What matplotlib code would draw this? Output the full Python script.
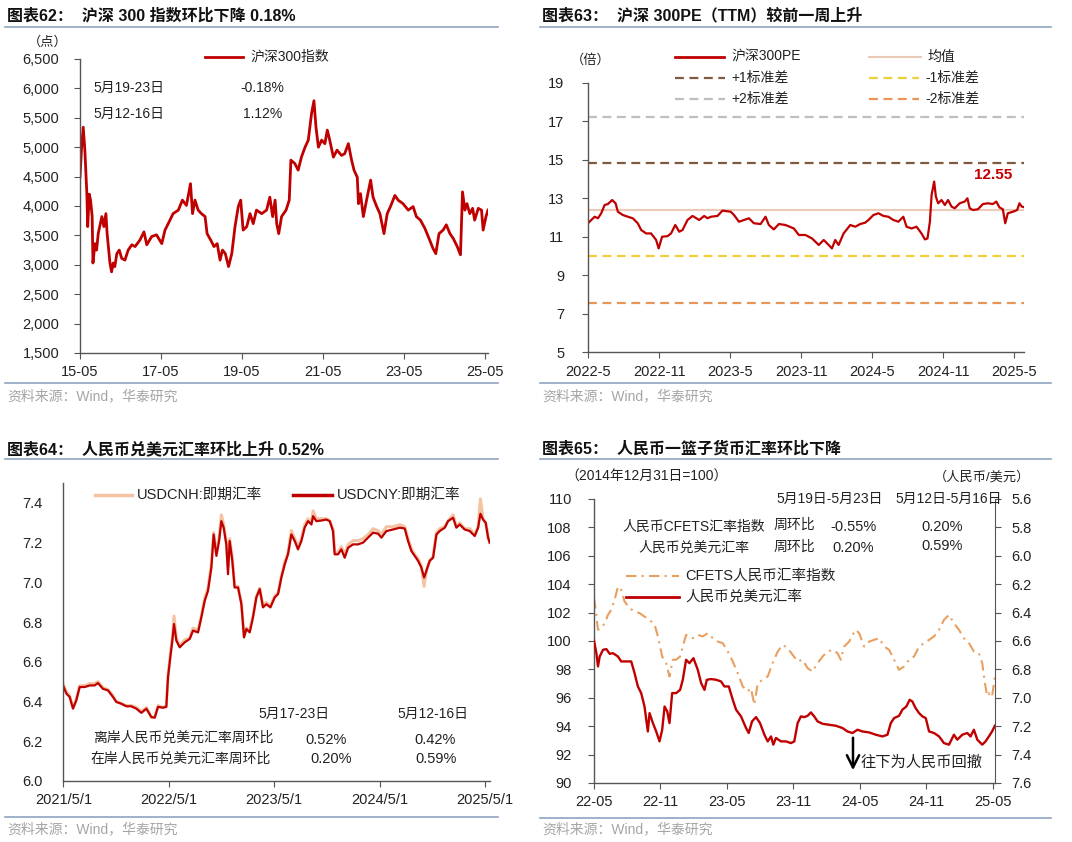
import matplotlib
matplotlib.use("Agg")
import matplotlib.pyplot as plt
from matplotlib.lines import Line2D

plt.rcParams['font.family'] = ['Liberation Sans', 'Noto Sans CJK SC', 'DejaVu Sans']

# ---- data: 沪深300指数 (decimal year, points)
csi_t = [2015.33, 2015.37, 2015.41, 2015.45, 2015.50, 2015.52, 2015.56, 2015.59, 2015.63, 2015.65,
         2015.70, 2015.74, 2015.78, 2015.87, 2015.92, 2015.97, 2016.00, 2016.07, 2016.11, 2016.15,
         2016.19, 2016.24, 2016.30, 2016.36, 2016.44, 2016.52, 2016.61, 2016.69, 2016.81, 2016.91,
         2016.98, 2017.10, 2017.22, 2017.35, 2017.43, 2017.51, 2017.63, 2017.76, 2017.86, 2017.96,
         2018.06, 2018.11, 2018.17, 2018.25, 2018.33, 2018.42, 2018.47, 2018.56, 2018.64, 2018.72,
         2018.79, 2018.85, 2018.92, 2019.00, 2019.08, 2019.16, 2019.24, 2019.30, 2019.36, 2019.45,
         2019.53, 2019.61, 2019.69, 2019.82, 2019.94, 2020.02, 2020.09, 2020.15, 2020.19, 2020.24,
         2020.31, 2020.42, 2020.50, 2020.54, 2020.64, 2020.72, 2020.80, 2020.89, 2020.97, 2021.05,
         2021.11, 2021.16, 2021.22, 2021.30, 2021.38, 2021.44, 2021.50, 2021.59, 2021.68, 2021.79,
         2021.87, 2021.96, 2022.04, 2022.10, 2022.18, 2022.21, 2022.26, 2022.33, 2022.41, 2022.51,
         2022.57, 2022.66, 2022.74, 2022.84, 2022.92, 2023.00, 2023.11, 2023.19, 2023.31, 2023.44,
         2023.56, 2023.64, 2023.74, 2023.85, 2023.97, 2024.05, 2024.12, 2024.20, 2024.30, 2024.38,
         2024.47, 2024.55, 2024.65, 2024.73, 2024.78, 2024.84, 2024.89, 2024.96, 2025.03, 2025.08,
         2025.17, 2025.25, 2025.29, 2025.36, 2025.41]
csi_v = [4490, 5000, 5340, 4950, 4200, 3650, 4200, 4100, 3830, 3030,
         3360, 3250, 3530, 3820, 3650, 3870, 3530, 3030, 2880, 3030,
         2970, 3190, 3250, 3110, 3080, 3250, 3340, 3310, 3420, 3560,
         3340, 3480, 3510, 3360, 3590, 3700, 3870, 3930, 4100, 4010,
         4380, 3870, 4100, 3930, 3870, 3820, 3530, 3420, 3310, 3360,
         3080, 3250, 3190, 2970, 3190, 3650, 3990, 4100, 3590, 3650,
         3870, 3700, 3930, 3870, 3930, 4150, 3820, 4100, 3700, 3530,
         3820, 3930, 4100, 4780, 4720, 4610, 4830, 5000, 5120, 5570,
         5790, 5340, 5000, 5120, 5060, 5290, 5120, 4830, 4950, 4860,
         4890, 5060, 4780, 4610, 4490, 4040, 4210, 3820, 4100, 4440,
         4150, 3990, 3870, 3530, 3870, 3990, 4180, 4100, 4040, 3930,
         3990, 3820, 3760, 3620, 3420, 3280, 3190, 3530, 3590, 3680,
         3530, 3450, 3310, 3170, 4240, 3930, 4040, 3870, 3960, 3760,
         3960, 3930, 3590, 3820, 3930]
csi_ticks = [2015.33, 2017.33, 2019.33, 2021.33, 2023.33, 2025.33]
csi_labels = ['15-05', '17-05', '19-05', '21-05', '23-05', '25-05']

# ---- data: 沪深300PE
pe_t = [2022.333, 2022.356, 2022.380, 2022.403, 2022.426, 2022.450, 2022.473, 2022.503, 2022.527, 2022.543,
        2022.578, 2022.613, 2022.648, 2022.683, 2022.707, 2022.742, 2022.777, 2022.812, 2022.830, 2022.854,
        2022.893, 2022.917, 2022.947, 2022.975, 2022.998, 2023.033, 2023.068, 2023.115, 2023.150, 2023.174,
        2023.197, 2023.244, 2023.279, 2023.337, 2023.360, 2023.395, 2023.430, 2023.465, 2023.500, 2023.547,
        2023.582, 2023.605, 2023.640, 2023.676, 2023.722, 2023.781, 2023.816, 2023.862, 2023.909, 2023.956,
        2023.991, 2024.026, 2024.049, 2024.072, 2024.096, 2024.131, 2024.178, 2024.213, 2024.248, 2024.283,
        2024.306, 2024.341, 2024.376, 2024.411, 2024.446, 2024.481, 2024.516, 2024.551, 2024.574, 2024.609,
        2024.644, 2024.679, 2024.703, 2024.721, 2024.738, 2024.750, 2024.768, 2024.780, 2024.796, 2024.820,
        2024.843, 2024.866, 2024.890, 2024.913, 2024.948, 2024.983, 2025.002, 2025.018, 2025.041, 2025.076,
        2025.111, 2025.146, 2025.181, 2025.205, 2025.228, 2025.251, 2025.268, 2025.286, 2025.322, 2025.352,
        2025.368, 2025.384, 2025.394]
pe_v = [11.70, 11.87, 12.04, 11.96, 12.22, 12.65, 12.70, 12.91, 12.74, 12.30,
        12.13, 12.04, 11.96, 11.70, 11.35, 11.17, 11.17, 10.83, 10.39, 11.00,
        11.03, 11.17, 11.61, 11.26, 11.35, 11.87, 12.08, 11.87, 12.08, 11.96,
        12.04, 12.08, 12.36, 12.30, 12.13, 11.78, 11.87, 11.96, 11.70, 11.66,
        12.04, 11.61, 11.38, 11.66, 11.61, 11.43, 11.09, 11.09, 10.91, 10.57,
        10.83, 10.57, 10.39, 10.83, 10.57, 11.17, 11.61, 11.52, 11.66, 11.73,
        11.87, 12.13, 12.22, 12.08, 12.04, 11.87, 11.78, 12.04, 11.52, 11.43,
        11.52, 11.17, 10.86, 10.91, 11.78, 13.17, 13.87, 13.09, 12.74, 12.91,
        12.65, 12.91, 12.57, 12.48, 12.74, 12.83, 13.00, 12.48, 12.39, 12.43,
        12.70, 12.74, 12.70, 12.83, 12.52, 12.43, 11.70, 12.22, 12.30, 12.39,
        12.74, 12.57, 12.55]
pe_mean = 12.40
pe_std = 2.42
pe_ticks = [2022.333, 2022.833, 2023.333, 2023.833, 2024.333, 2024.833, 2025.333]
pe_labels = ['2022-5', '2022-11', '2023-5', '2023-11', '2024-5', '2024-11', '2025-5']

# ---- data: 人民币兑美元汇率
fx_t = [2021.330, 2021.362, 2021.393, 2021.425, 2021.456, 2021.488, 2021.536, 2021.583, 2021.630, 2021.662,
        2021.709, 2021.757, 2021.804, 2021.836, 2021.883, 2021.931, 2021.978, 2022.026, 2022.073, 2022.121,
        2022.168, 2022.200, 2022.231, 2022.279, 2022.310, 2022.326, 2022.348, 2022.367, 2022.383, 2022.405,
        2022.437, 2022.484, 2022.532, 2022.563, 2022.611, 2022.642, 2022.674, 2022.705, 2022.737, 2022.759,
        2022.785, 2022.810, 2022.832, 2022.854, 2022.879, 2022.895, 2022.911, 2022.936, 2022.958, 2022.990,
        2023.022, 2023.047, 2023.069, 2023.101, 2023.132, 2023.164, 2023.196, 2023.227, 2023.259, 2023.297,
        2023.338, 2023.370, 2023.401, 2023.433, 2023.464, 2023.496, 2023.528, 2023.559, 2023.591, 2023.622,
        2023.654, 2023.686, 2023.702, 2023.733, 2023.781, 2023.828, 2023.860, 2023.891, 2023.907, 2023.939,
        2023.970, 2024.002, 2024.034, 2024.081, 2024.128, 2024.176, 2024.223, 2024.271, 2024.318, 2024.350,
        2024.397, 2024.460, 2024.524, 2024.571, 2024.603, 2024.634, 2024.666, 2024.698, 2024.729, 2024.755,
        2024.777, 2024.808, 2024.840, 2024.872, 2024.903, 2024.951, 2024.982, 2025.030, 2025.061, 2025.093,
        2025.140, 2025.188, 2025.235, 2025.267, 2025.289, 2025.314, 2025.339, 2025.362, 2025.377]
cny_v = [6.481, 6.440, 6.423, 6.364, 6.406, 6.473, 6.473, 6.481, 6.481, 6.493,
         6.464, 6.456, 6.423, 6.398, 6.389, 6.376, 6.376, 6.364, 6.343, 6.364,
         6.322, 6.319, 6.373, 6.369, 6.373, 6.523, 6.623, 6.707, 6.790, 6.707,
         6.673, 6.698, 6.715, 6.757, 6.748, 6.824, 6.907, 6.957, 7.074, 7.241,
         7.133, 7.208, 7.308, 7.275, 7.191, 7.041, 7.208, 7.108, 6.974, 6.974,
         6.890, 6.723, 6.765, 6.748, 6.824, 6.924, 6.966, 6.874, 6.890, 6.874,
         6.924, 6.941, 7.024, 7.091, 7.141, 7.241, 7.208, 7.166, 7.208, 7.275,
         7.308, 7.291, 7.333, 7.308, 7.311, 7.316, 7.308, 7.258, 7.141, 7.141,
         7.166, 7.124, 7.174, 7.191, 7.191, 7.200, 7.225, 7.250, 7.245, 7.225,
         7.258, 7.266, 7.275, 7.271, 7.208, 7.158, 7.133, 7.108, 7.074, 7.024,
         7.058, 7.108, 7.124, 7.241, 7.258, 7.275, 7.308, 7.325, 7.275, 7.291,
         7.266, 7.258, 7.233, 7.275, 7.345, 7.316, 7.300, 7.225, 7.200]
cnh_v = [6.49, 6.45, 6.43, 6.37, 6.41, 6.48, 6.48, 6.49, 6.49, 6.50,
         6.47, 6.46, 6.43, 6.40, 6.39, 6.38, 6.38, 6.37, 6.35, 6.37,
         6.32, 6.32, 6.38, 6.37, 6.38, 6.53, 6.64, 6.72, 6.83, 6.72,
         6.68, 6.71, 6.72, 6.77, 6.76, 6.83, 6.92, 6.97, 7.09, 7.25,
         7.15, 7.22, 7.34, 7.29, 7.20, 7.08, 7.22, 7.12, 6.98, 6.98,
         6.90, 6.73, 6.77, 6.76, 6.83, 6.93, 6.97, 6.88, 6.90, 6.88,
         6.93, 6.95, 7.03, 7.10, 7.15, 7.26, 7.22, 7.18, 7.22, 7.29,
         7.32, 7.30, 7.36, 7.32, 7.32, 7.32, 7.31, 7.27, 7.15, 7.15,
         7.18, 7.14, 7.19, 7.21, 7.21, 7.22, 7.24, 7.27, 7.26, 7.24,
         7.28, 7.28, 7.29, 7.28, 7.22, 7.17, 7.14, 7.12, 7.08, 6.98,
         7.06, 7.11, 7.13, 7.25, 7.27, 7.28, 7.31, 7.34, 7.28, 7.30,
         7.27, 7.27, 7.24, 7.28, 7.42, 7.32, 7.30, 7.23, 7.20]
fx_ticks = [2021.333, 2022.333, 2023.333, 2024.333, 2025.333]
fx_labels = ['2021/5/1', '2022/5/1', '2023/5/1', '2024/5/1', '2025/5/1']

# ---- data: 人民币一篮子货币汇率
bk_usd_t = [2022.333, 2022.351, 2022.363, 2022.376, 2022.401, 2022.426, 2022.451, 2022.476, 2022.513, 2022.538,
            2022.576, 2022.613, 2022.638, 2022.663, 2022.688, 2022.713, 2022.738, 2022.751, 2022.776, 2022.801,
            2022.826, 2022.846, 2022.864, 2022.884, 2022.901, 2022.921, 2022.951, 2022.981, 2023.001, 2023.026,
            2023.051, 2023.081, 2023.114, 2023.139, 2023.164, 2023.182, 2023.214, 2023.252, 2023.289, 2023.314,
            2023.347, 2023.377, 2023.402, 2023.439, 2023.477, 2023.497, 2023.522, 2023.552, 2023.582, 2023.615,
            2023.640, 2023.665, 2023.682, 2023.702, 2023.740, 2023.777, 2023.815, 2023.840, 2023.865, 2023.890,
            2023.915, 2023.940, 2023.965, 2023.990, 2024.015, 2024.053, 2024.103, 2024.153, 2024.203, 2024.240,
            2024.278, 2024.315, 2024.353, 2024.403, 2024.453, 2024.503, 2024.541, 2024.566, 2024.591, 2024.628,
            2024.653, 2024.683, 2024.708, 2024.728, 2024.753, 2024.779, 2024.804, 2024.829, 2024.854, 2024.891,
            2024.929, 2024.966, 2025.004, 2025.041, 2025.066, 2025.104, 2025.141, 2025.166, 2025.191, 2025.217,
            2025.254, 2025.279, 2025.304, 2025.328, 2025.349]
bk_usd_v = [6.597, 6.686, 6.779, 6.709, 6.662, 6.657, 6.690, 6.686, 6.709, 6.744,
            6.744, 6.744, 6.826, 6.920, 6.967, 7.061, 7.237, 7.108, 7.178, 7.237,
            7.307, 7.225, 7.061, 7.096, 7.178, 6.967, 6.967, 6.944, 6.873, 6.732,
            6.756, 6.721, 6.803, 6.897, 6.944, 6.873, 6.868, 6.873, 6.885, 6.920,
            6.920, 7.014, 7.084, 7.131, 7.213, 7.248, 7.166, 7.136, 7.178, 7.260,
            7.307, 7.272, 7.330, 7.283, 7.307, 7.307, 7.319, 7.307, 7.178, 7.131,
            7.136, 7.127, 7.103, 7.131, 7.166, 7.183, 7.190, 7.197, 7.213, 7.237,
            7.248, 7.225, 7.237, 7.244, 7.260, 7.272, 7.260, 7.178, 7.143, 7.127,
            7.084, 7.061, 7.014, 7.026, 7.073, 7.108, 7.131, 7.143, 7.237, 7.248,
            7.272, 7.319, 7.330, 7.260, 7.295, 7.260, 7.248, 7.272, 7.225, 7.295,
            7.330, 7.307, 7.272, 7.237, 7.197]
cfets_t = [2022.333, 2022.346, 2022.363, 2022.388, 2022.413, 2022.438, 2022.463, 2022.488, 2022.513, 2022.538,
           2022.563, 2022.601, 2022.638, 2022.676, 2022.713, 2022.751, 2022.789, 2022.814, 2022.846, 2022.876,
           2022.901, 2022.926, 2022.951, 2022.981, 2023.001, 2023.026, 2023.051, 2023.076, 2023.114, 2023.151,
           2023.189, 2023.227, 2023.264, 2023.302, 2023.339, 2023.377, 2023.414, 2023.452, 2023.489, 2023.514,
           2023.539, 2023.565, 2023.602, 2023.640, 2023.677, 2023.715, 2023.752, 2023.790, 2023.827, 2023.865,
           2023.902, 2023.940, 2023.977, 2024.015, 2024.053, 2024.090, 2024.128, 2024.165, 2024.190, 2024.215,
           2024.253, 2024.278, 2024.303, 2024.328, 2024.366, 2024.403, 2024.441, 2024.478, 2024.516, 2024.553,
           2024.591, 2024.628, 2024.666, 2024.703, 2024.741, 2024.779, 2024.816, 2024.854, 2024.891, 2024.929,
           2024.966, 2025.004, 2025.041, 2025.079, 2025.116, 2025.154, 2025.191, 2025.229, 2025.254, 2025.274,
           2025.292, 2025.309, 2025.328, 2025.349]
cfets_v = [103.01, 102.19, 100.79, 100.90, 101.25, 101.84, 102.19, 102.90, 103.83, 103.60,
           102.78, 102.31, 102.08, 101.96, 101.72, 101.49, 101.14, 100.32, 98.91, 98.44,
           97.50, 98.68, 98.68, 98.91, 99.61, 100.43, 100.32, 100.20, 100.43, 100.32,
           100.55, 100.20, 99.96, 99.85, 99.26, 98.56, 97.74, 96.80, 96.45, 96.68,
           95.51, 97.03, 97.27, 97.50, 98.44, 99.26, 99.73, 99.50, 99.03, 98.56,
           98.68, 98.09, 97.85, 98.44, 98.91, 99.26, 99.38, 99.14, 98.68, 99.61,
           99.96, 100.43, 100.79, 100.55, 99.61, 99.96, 100.08, 100.20, 99.61, 99.38,
           98.68, 97.97, 98.21, 98.68, 98.91, 99.61, 99.85, 100.08, 100.32, 100.79,
           101.49, 101.84, 101.25, 100.79, 100.20, 99.85, 99.26, 99.14, 98.44, 97.03,
           96.10, 96.33, 96.10, 97.50]
bk_ticks = [2022.333, 2022.833, 2023.333, 2023.833, 2024.333, 2024.833, 2025.333]
bk_labels = ['22-05', '22-11', '23-05', '23-11', '24-05', '24-11', '25-05']

RED = '#C00000'
RULE = '#8EA4C0'
SPINE = '#555555'

W, H = 1072, 842
fig = plt.figure(figsize=(W / 100, H / 100), dpi=100)


def px_axes(l, t, r, b):
    return fig.add_axes([l / W, 1 - b / H, (r - l) / W, (b - t) / H])


def ptext(x, y, s, **kw):
    kw.setdefault('va', 'center')
    kw.setdefault('fontsize', 10)
    kw.setdefault('color', '#222222')
    fig.text(x / W, 1 - y / H, s, **kw)


def hline(x0, x1, y, **kw):
    fig.add_artist(Line2D([x0 / W, x1 / W], [1 - y / H] * 2, **kw))


def frame(x0, x1, ty, ly, by, sy, title):
    ptext(x0 + 2, ty, title, fontsize=11.5, fontweight='bold', color='#111111')
    hline(x0, x1, ly, color=RULE, lw=1.2)
    hline(x0, x1, by, color=RULE, lw=1.2)
    ptext(x0 + 2, sy, '资料来源：Wind，华泰研究', fontsize=10, color='#a5a5a5')


def style(ax, ypad, ylen=4):
    for s in ['top', 'right']:
        ax.spines[s].set_visible(False)
    for s in ['left', 'bottom']:
        ax.spines[s].set_color(SPINE)
        ax.spines[s].set_linewidth(1.0)
    ax.tick_params(axis='y', length=ylen, pad=ypad, labelsize=10.5, colors=SPINE, labelcolor='#222222')
    ax.tick_params(axis='x', length=4, pad=5, labelsize=10.5, colors=SPINE, labelcolor='#222222')


# ---------------- 图表62
frame(5, 498, 16, 27, 383, 396, '图表62：  沪深 300 指数环比下降 0.18%')
ax1 = px_axes(80, 59, 488, 353)
ax1.plot(csi_t, csi_v, color=RED, lw=2.0)
ax1.set_xlim(2015.33, 2025.41)
ax1.set_ylim(1500, 6500)
ax1.set_yticks(range(1500, 6501, 500))
ax1.set_yticklabels(['{:,}'.format(v) for v in range(1500, 6501, 500)])
ax1.set_xticks(csi_ticks)
ax1.set_xticklabels(csi_labels)
style(ax1, 11)
ptext(28, 42, '（点）', fontsize=9.5)
hline(205, 243, 57, color=RED, lw=2)
ptext(250, 57, '沪深300指数', fontsize=10)
ptext(93, 88, '5月19-23日', fontsize=10)
ptext(240, 88, '-0.18%', fontsize=10)
ptext(93, 114, '5月12-16日', fontsize=10)
ptext(243, 114, '1.12%', fontsize=10)

# ---------------- 图表63
frame(540, 1051, 16, 27, 383, 396, '图表63：  沪深 300PE（TTM）较前一周上升')
ax2 = px_axes(588, 83, 1024, 352)
ref_lines = [
    (pe_mean + 2 * pe_std, '#BFBFBF', '+2标准差'),
    (pe_mean + pe_std, '#7F5A3F', '+1标准差'),
    (pe_mean - pe_std, '#F0CF3C', '-1标准差'),
    (pe_mean - 2 * pe_std, '#E8955A', '-2标准差'),
]
ax2.axhline(pe_mean, color='#EBCBB8', lw=1.5)
for val, col, _ in ref_lines:
    ax2.axhline(val, color=col, lw=1.6, dashes=(4, 2.5))
ax2.plot(pe_t, pe_v, color=RED, lw=1.6)
ax2.set_xlim(2022.333, 2025.40)
ax2.set_ylim(5, 19)
ax2.set_yticks(range(5, 20, 2))
ax2.set_xticks(pe_ticks)
ax2.set_xticklabels(pe_labels)
style(ax2, 13)
ptext(571, 60, '（倍）', fontsize=9.5)
hline(675, 724, 57, color=RED, lw=2)
ptext(731, 57, '沪深300PE')
hline(869, 921, 57, color='#EBCBB8', lw=1.5)
ptext(928, 57, '均值')
leg_pos = {'+1标准差': (675, 78), '+2标准差': (675, 99), '-1标准差': (869, 78), '-2标准差': (869, 99)}
for val, col, name in ref_lines:
    lx, ly = leg_pos[name]
    hline(lx, lx + 50, ly, color=col, lw=1.6, dashes=(4, 2.5))
    ptext(lx + 56, ly, name)
ptext(974, 175, '{:.2f}'.format(pe_v[-1]), fontsize=11, fontweight='bold', color=RED)

# ---------------- 图表64
frame(5, 498, 449, 459, 817, 829, '图表64：  人民币兑美元汇率环比上升 0.52%')
ax3 = px_axes(63, 483, 490, 781)
ax3.plot(fx_t, cnh_v, color='#F5C2A2', lw=2.2)
ax3.plot(fx_t, cny_v, color=RED, lw=1.6)
ax3.set_xlim(2021.33, 2025.38)
ax3.set_ylim(6.0, 7.5)
ax3.set_yticks([6.0, 6.2, 6.4, 6.6, 6.8, 7.0, 7.2, 7.4])
ax3.set_yticklabels(['%.1f' % v for v in [6.0, 6.2, 6.4, 6.6, 6.8, 7.0, 7.2, 7.4]])
ax3.set_xticks(fx_ticks)
ax3.set_xticklabels(fx_labels)
style(ax3, 15, ylen=0)
hline(95, 132, 495, color='#F5C2A2', lw=2.5)
ptext(137, 495, 'USDCNH:即期汇率', fontsize=10.5)
hline(293, 332, 495, color=RED, lw=2.5)
ptext(337, 495, 'USDCNY:即期汇率', fontsize=10.5)
ptext(258, 714, '5月17-23日')
ptext(397, 714, '5月12-16日')
ptext(93, 738, '离岸人民币兑美元汇率周环比')
ptext(305, 740, '0.52%', fontsize=10.5)
ptext(414, 740, '0.42%', fontsize=10.5)
ptext(90, 759, '在岸人民币兑美元汇率周环比')
ptext(310, 759, '0.20%', fontsize=10.5)
ptext(415, 759, '0.59%', fontsize=10.5)

# ---------------- 图表65
frame(540, 1051, 449, 459, 818, 829, '图表65：  人民币一篮子货币汇率环比下降')
ax4 = px_axes(594, 499, 995, 783)
ax4.plot(cfets_t, cfets_v, color='#E8A060', lw=1.5, dashes=(5, 2.5, 1, 2.5))
ax4.set_xlim(2022.333, 2025.35)
ax4.set_ylim(90, 110)
ax4.set_yticks(range(90, 111, 2))
ax4.set_xticks(bk_ticks)
ax4.set_xticklabels(bk_labels)
style(ax4, 12)
ax4b = ax4.twinx()
ax4b.plot(bk_usd_t, bk_usd_v, color=RED, lw=1.7)
ax4b.set_ylim(7.6, 5.6)
rt = [5.6, 5.8, 6.0, 6.2, 6.4, 6.6, 6.8, 7.0, 7.2, 7.4, 7.6]
ax4b.set_yticks(rt)
ax4b.set_yticklabels(['%.1f' % v for v in rt])
for s in ['top', 'left', 'bottom']:
    ax4b.spines[s].set_visible(False)
ax4b.spines['right'].set_color(SPINE)
ax4b.tick_params(axis='y', length=4, pad=8, labelsize=10.5, colors=SPINE, labelcolor='#222222')
ptext(565, 477, '（2014年12月31日=100）')
ptext(1030, 477, '（人民币/美元）', ha='right', fontsize=9.5)
ptext(776, 499, '5月19日-5月23日')
ptext(895, 499, '5月12日-5月16日')
ptext(622, 527, '人民币CFETS汇率指数')
ptext(774, 525, '周环比')
ptext(830, 527, '-0.55%', fontsize=10.5)
ptext(921, 527, '0.20%', fontsize=10.5)
ptext(638, 548, '人民币兑美元汇率')
ptext(774, 547, '周环比')
ptext(832, 548, '0.20%', fontsize=10.5)
ptext(921, 546, '0.59%', fontsize=10.5)
hline(626, 679, 576, color='#E8A060', lw=1.5, dashes=(5, 2.5, 1, 2.5))
ptext(685, 576, 'CFETS人民币汇率指数', fontsize=10.5)
hline(626, 679, 597, color=RED, lw=2)
ptext(685, 597, '人民币兑美元汇率', fontsize=10.5)
fig.add_artist(matplotlib.patches.FancyArrowPatch(
    (853 / W, 1 - 735 / H), (853 / W, 1 - 773 / H), transform=fig.transFigure,
    arrowstyle='->', mutation_scale=22, lw=1.8, color='black'))
ptext(861, 763, '往下为人民币回撤', fontsize=11)

fig.savefig('out.png', dpi=100)
